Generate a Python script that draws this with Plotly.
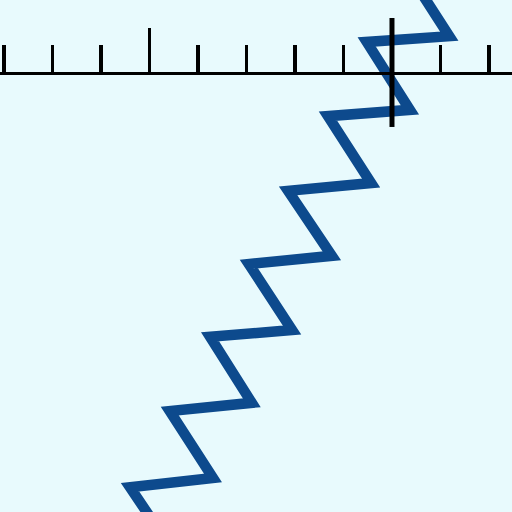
import plotly.graph_objects as go

# Zigzag vertices (data units: 1 unit = one tick interval; origin at the crossing axis)
zig_x = [-4.50, -5.40, -3.69, -4.58, -2.89, -3.75, -2.06, -2.95, -1.24, -2.14,
         -0.43, -1.32, 0.37, -0.52, 1.18, 0.29]
zig_y = [-9.88, -8.54, -8.35, -6.97, -6.80, -5.44, -5.30, -3.94, -3.77, -2.43,
         -2.27, -0.89, -0.76, 0.64, 0.76, 2.14]

# Vertical axis segment
vaxis_x = [0, 0]
vaxis_y = [1.134, -1.113]

x_range = [-8.08, 2.474]
y_range = [-9.052, 1.505]

fig = go.Figure()
fig.add_trace(go.Scatter(x=zig_x, y=zig_y, mode="lines",
                         line=dict(color="#0D4A8D", width=10.5),
                         hoverinfo="skip", showlegend=False))

fig.add_shape(type="line", x0=vaxis_x[0], x1=vaxis_x[1], y0=vaxis_y[0], y1=vaxis_y[1],
              xref="x", yref="y", line=dict(color="black", width=5), layer="above")

fig.update_layout(
    width=512, height=512,
    margin=dict(l=0, r=0, t=0, b=0),
    paper_bgcolor="#E8FAFD", plot_bgcolor="#E8FAFD",
    showlegend=False,
    xaxis=dict(range=x_range, side="top", anchor="free", position=(512 - 73) / 512,
               showline=True, linecolor="black", linewidth=3,
               ticks="outside", tick0=0, dtick=5, ticklen=44, tickwidth=3.5, tickcolor="black",
               minor=dict(ticks="outside", dtick=1, ticklen=27, tickwidth=3.5, tickcolor="black",
                          showgrid=False),
               showticklabels=False, showgrid=False, zeroline=False, fixedrange=True),
    yaxis=dict(range=y_range, visible=False, showgrid=False, zeroline=False, fixedrange=True),
)

fig.write_html("out.html", config={"displayModeBar": False, "staticPlot": True},
               post_script="document.body.style.margin='0';document.body.style.background='#E8FAFD';")
